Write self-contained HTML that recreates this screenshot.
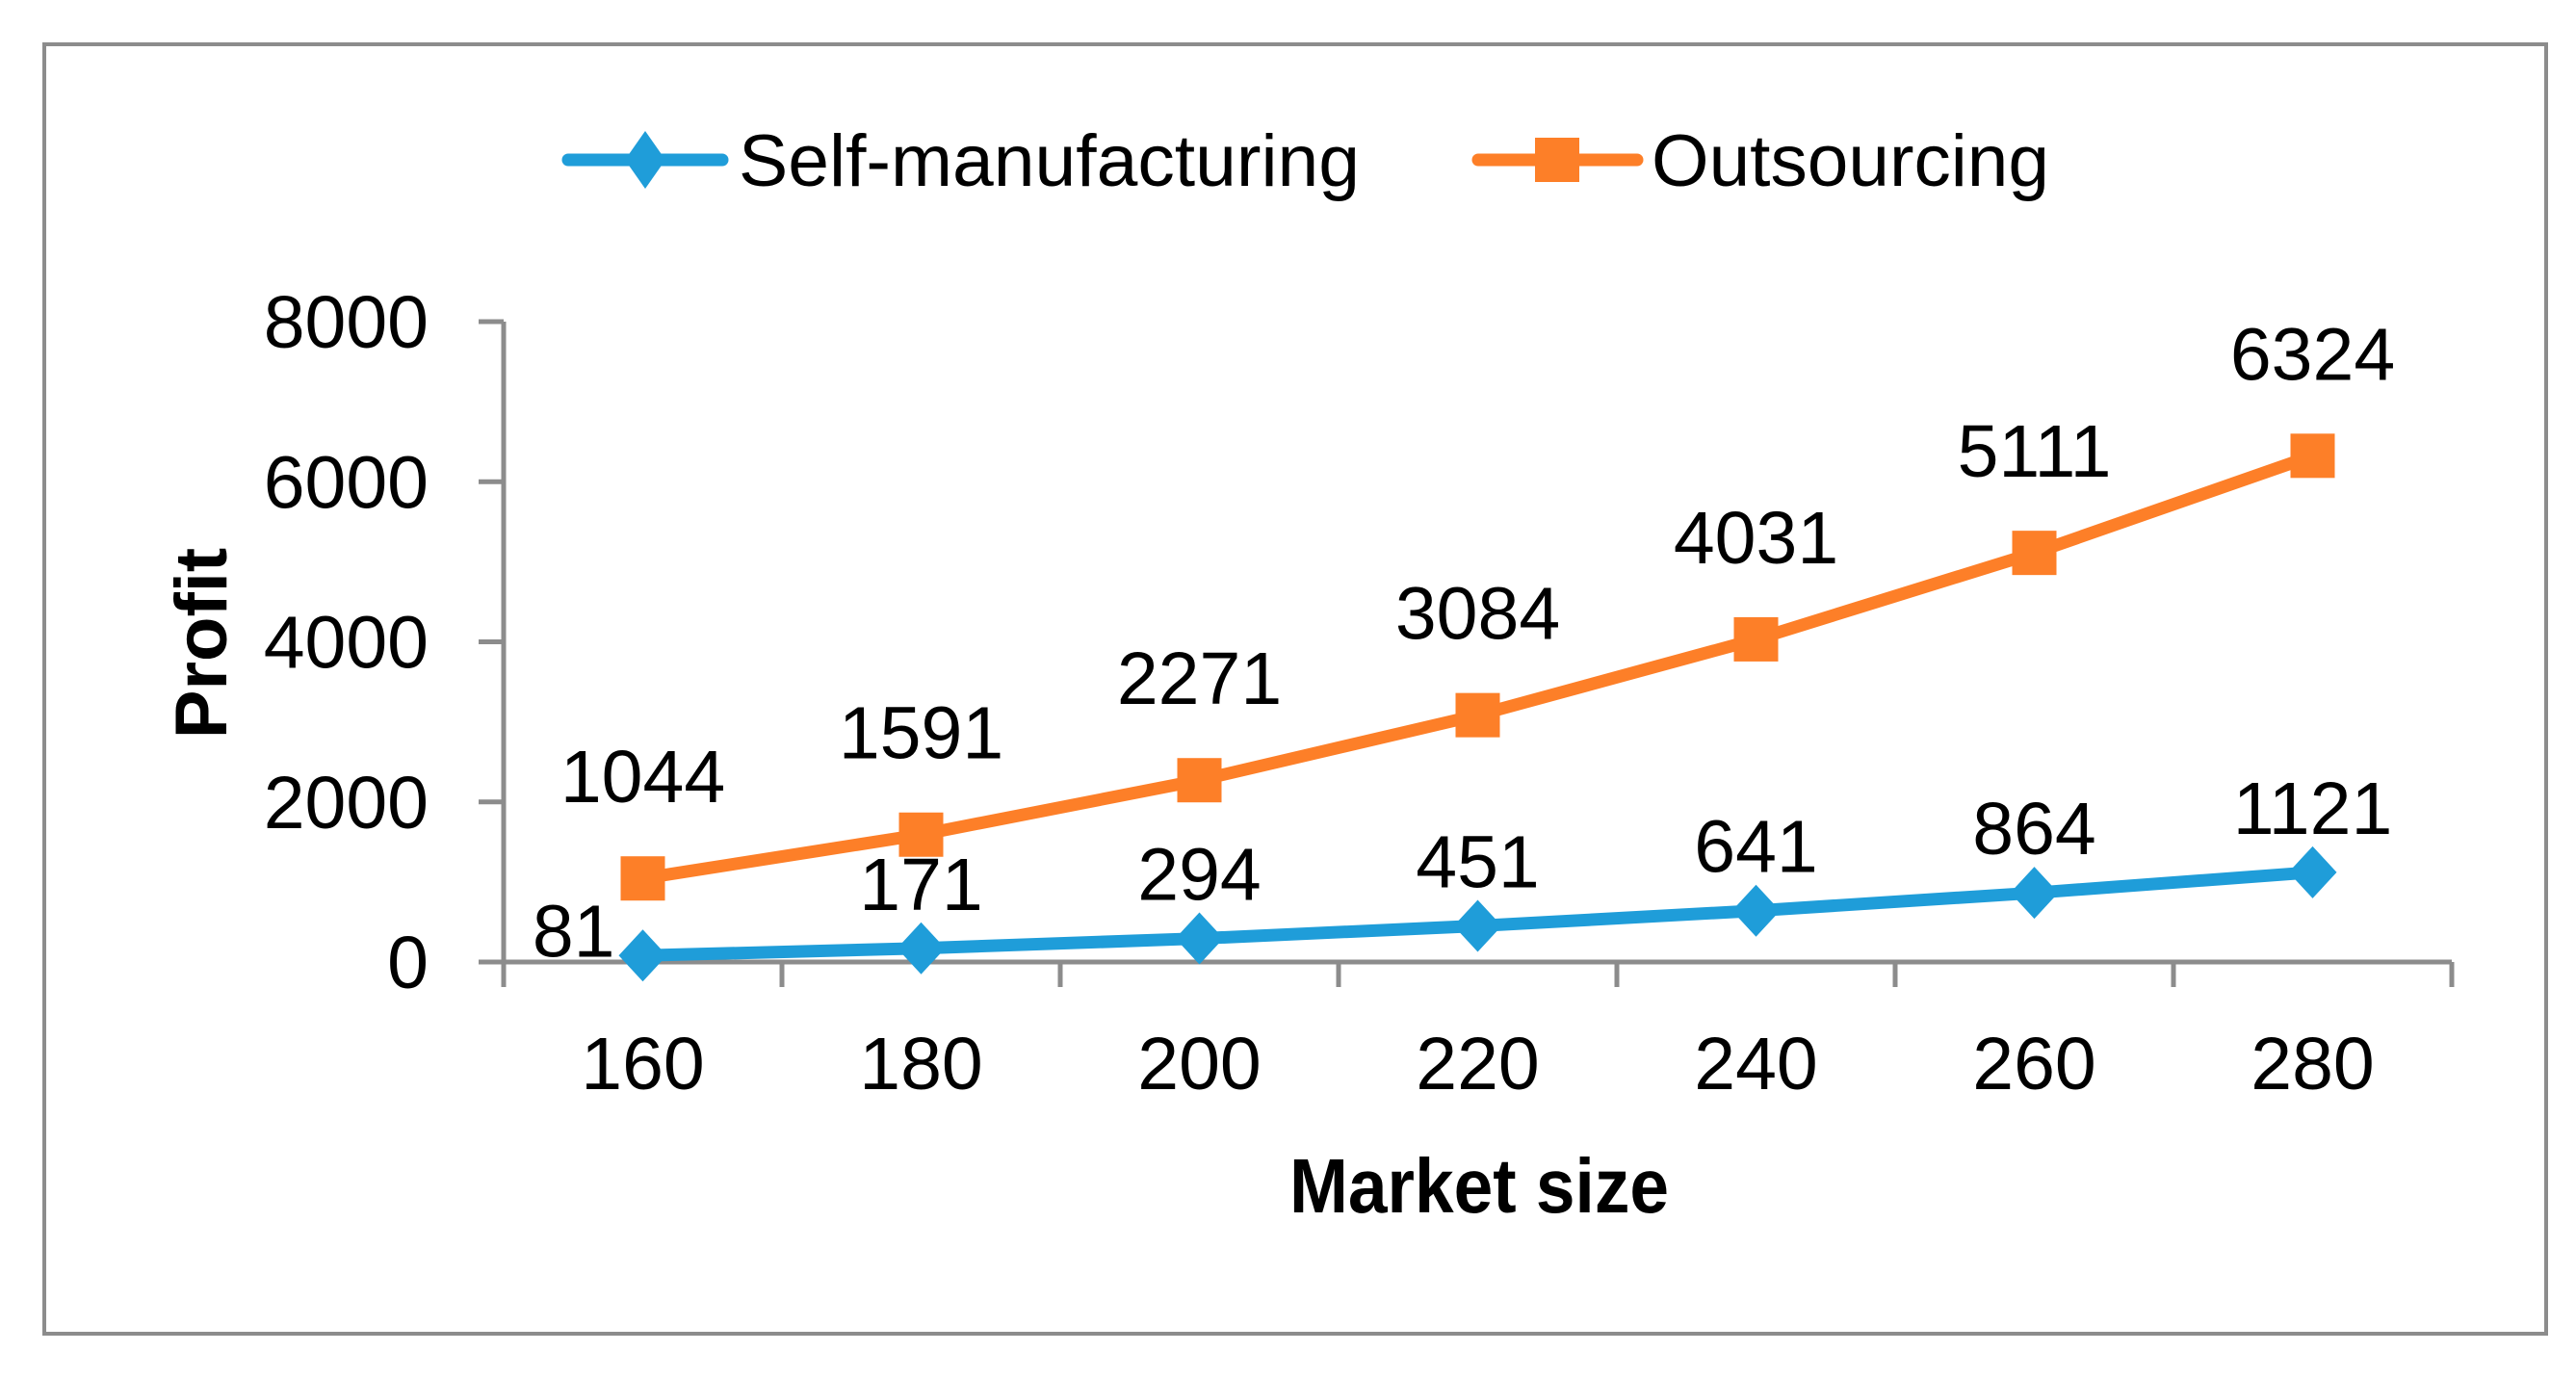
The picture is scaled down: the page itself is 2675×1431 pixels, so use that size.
<!DOCTYPE html>
<html><head><meta charset="utf-8"><style>
html,body{margin:0;padding:0;background:#fff}
svg{display:block}
text{font-family:"Liberation Sans",sans-serif;fill:#000}
</style></head><body>
<svg id="chart" width="2675" height="1431" viewBox="0 0 2675 1431" xmlns="http://www.w3.org/2000/svg">
<rect x="46" y="46" width="2598" height="1339" fill="#fff" stroke="#8c8c8c" stroke-width="4"/>
<g id="axes"></g>
<g id="series"></g>
<g>
  <g>
    <line x1="590" y1="166" x2="750" y2="166" stroke="#1f9dd9" stroke-width="13" stroke-linecap="round"/>
    <polygon points="670,136 691,166 670,196 649,166" fill="#1f9dd9"/>
    <text x="767" y="193" font-size="76" textLength="645" lengthAdjust="spacingAndGlyphs">Self-manufacturing</text>
  </g>
  <g>
    <line x1="1535" y1="166" x2="1700" y2="166" stroke="#fd7f28" stroke-width="13" stroke-linecap="round"/>
    <rect x="1594" y="143" width="46" height="46" fill="#fd7f28"/>
    <text x="1715" y="193" font-size="76" textLength="413" lengthAdjust="spacingAndGlyphs">Outsourcing</text>
  </g>
</g>
<text x="1536" y="1259" font-size="80" font-weight="bold" text-anchor="middle" textLength="394" lengthAdjust="spacingAndGlyphs">Market size</text>
<text transform="translate(235,668) rotate(-90)" font-size="76" font-weight="bold" text-anchor="middle">Profit</text>
</svg>
<script>
const categories = [160, 180, 200, 220, 240, 260, 280];
const selfValues = [81, 171, 294, 451, 641, 864, 1121];
const outValues = [1044, 1591, 2271, 3084, 4031, 5111, 6324];
const yTicks = [0, 2000, 4000, 6000, 8000];

const NS = 'http://www.w3.org/2000/svg';
const plotLeft = 523, plotRight = 2546, y0 = 999, yTop = 334, yMax = 8000;
const band = (plotRight - plotLeft) / categories.length;
function xPos(i){ return plotLeft + band * (i + 0.5); }
function yPos(v){ return y0 - (v / yMax) * (y0 - yTop); }
function mk(tag, attrs, parent){
  const e = document.createElementNS(NS, tag);
  for (const k in attrs) e.setAttribute(k, attrs[k]);
  parent.appendChild(e);
  return e;
}
const axes = document.getElementById('axes');
const series = document.getElementById('series');
const grey = '#8c8c8c';

const yAxis = mk('line', {x1: plotLeft, y1: yTop, x2: plotLeft, y2: y0 + 26, stroke: grey, 'stroke-width': 5}, axes);


const xAxis = mk('line', {x1: plotLeft - 26, y1: y0, x2: plotRight, y2: y0, stroke: grey, 'stroke-width': 5}, axes);



yTicks.forEach(t => {
  const y = yPos(t);
  const tk = mk('line', {x1: plotLeft - 26, y1: y, x2: plotLeft, y2: y, stroke: grey, 'stroke-width': 5}, axes);
  
  
  const lb = mk('text', {x: 445, y: y + 27, 'font-size': 77, 'text-anchor': 'end'}, axes);
  lb.textContent = t;
  
  
});
for (let i = 0; i <= categories.length; i++) {
  const x = plotLeft + band * i;
  const tk = mk('line', {x1: x, y1: y0, x2: x, y2: y0 + 26, stroke: grey, 'stroke-width': 5}, axes);
  
  
}
categories.forEach((c, i) => {
  const lb = mk('text', {x: xPos(i), y: 1131, 'font-size': 77, 'text-anchor': 'middle'}, axes);
  lb.textContent = c;
  
  
});

function drawSeries(vals, color, marker, name, labelDy){
  const pts = vals.map((v, i) => xPos(i) + ',' + yPos(v)).join(' ');
  const pl = mk('polyline', {points: pts, fill: 'none', stroke: color, 'stroke-width': 13, 'stroke-linejoin': 'round'}, series);
  
  
  vals.forEach((v, i) => {
    const x = xPos(i), y = yPos(v);
    let m;
    if (marker === 'square') {
      m = mk('rect', {x: x - 23, y: y - 23, width: 46, height: 46, fill: color}, series);
    } else {
      m = mk('polygon', {points: `${x},${y-27} ${x+25},${y} ${x},${y+27} ${x-25},${y}`, fill: color}, series);
    }
    
    
    let lx = x, anchor = 'middle', ly = y + labelDy;
    if (marker === 'diamond' && i === 0) { lx = x - 29; anchor = 'end'; ly = y + 1; }
    const lb = mk('text', {x: lx, y: ly, 'font-size': 77, 'text-anchor': anchor}, series);
    lb.textContent = v;
    
    
  });
}
drawSeries(outValues, '#fd7f28', 'square', 'outsourcing', -79);
drawSeries(selfValues, '#1f9dd9', 'diamond', 'self-manufacturing', -40);
</script>
</body></html>
